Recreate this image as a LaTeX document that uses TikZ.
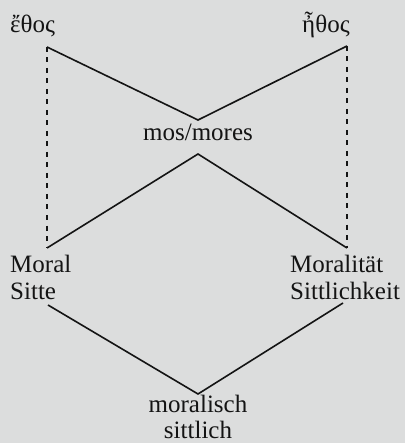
\documentclass[tikz,border=0pt]{standalone}
\usepackage{fontspec}
\setmainfont{Liberation Serif}
\definecolor{bg}{RGB}{220,221,221}
\definecolor{ink}{RGB}{20,20,20}
\begin{document}
\begin{tikzpicture}[x=1pt,y=-1pt,
  lbl/.style={inner sep=0pt,font=\fontsize{25}{27}\selectfont,text=ink},
  solidline/.style={draw=ink,line width=1.6pt},
  dashline/.style={draw=ink,line width=1.8pt,dash pattern=on 5pt off 5.5pt}]
\fill[bg] (0,0) rectangle (405,443);
\useasboundingbox (0,0) rectangle (405,443);
% labels
\node[lbl,anchor=base west] (ethos1) at (10,33) {ἔθος};
\node[lbl,anchor=base west] (ethos2) at (302,33) {ἦθος};
\node[lbl,anchor=base] (mos) at (198,141) {mos/mores};
\node[lbl,anchor=base west] (moral) at (10,272) {Moral};
\node[lbl,anchor=base west] (sitte) at (10,299) {Sitte};
\node[lbl,anchor=base west] (moralitaet) at (290,272) {Moralität};
\node[lbl,anchor=base west] (sittlichkeit) at (290,299) {Sittlichkeit};
\node[lbl,anchor=base] (moralisch) at (198,412) {moralisch};
\node[lbl,anchor=base] (sittlich) at (198,438) {sittlich};
% connector end points
\coordinate (tl) at (47,47);
\coordinate (tr) at (347,46);
\coordinate (a1) at (198,120);
\coordinate (a2) at (198,154);
\coordinate (bl) at (47,248);
\coordinate (br) at (347,248);
\coordinate (l3) at (48,305);
\coordinate (r3) at (343,303);
\coordinate (a3) at (198,394);
% connectors
\draw[solidline] (tl) -- (a1) -- (tr);
\draw[solidline] (bl) -- (a2) -- (br);
\draw[solidline] (l3) -- (a3) -- (r3);
\draw[dashline] (tl) -- (bl);
\draw[dashline] (tr) -- (br);
\end{tikzpicture}
\end{document}
